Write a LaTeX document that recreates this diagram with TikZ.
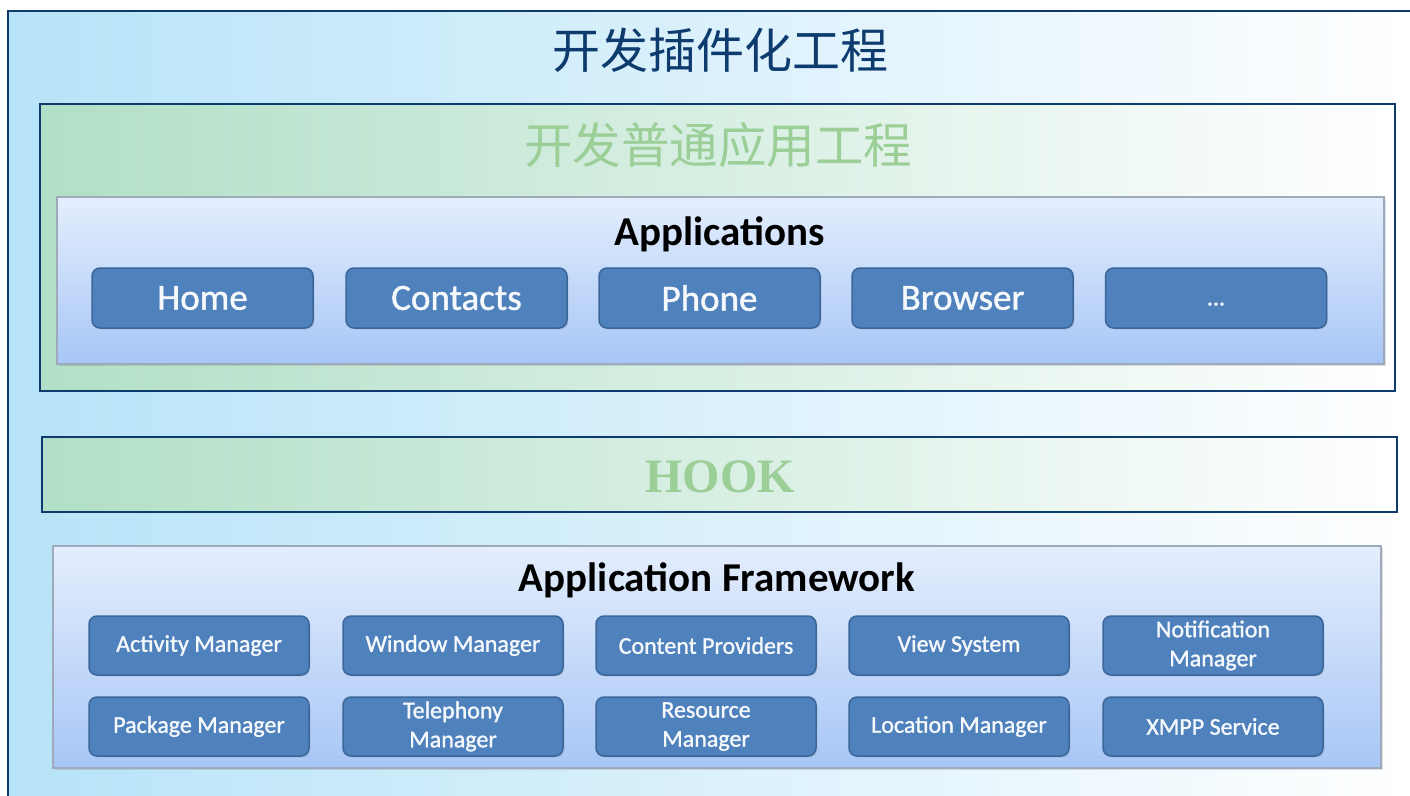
\documentclass[tikz,border=0pt]{standalone}
\usepackage{fontspec}
\usetikzlibrary{shadows}
\newfontfamily\cjk{Noto Sans CJK SC}
\newfontfamily\appfont[FakeBold=1.2]{Carlito}
\newfontfamily\headfont{Carlito}
\newfontfamily\hookfont{Liberation Serif}
\definecolor{navy}{HTML}{0D3B6E}
\definecolor{skyleft}{HTML}{B7E3F8}
\definecolor{mintleft}{HTML}{B1DFC7}
\definecolor{mintext}{HTML}{9CCF98}
\definecolor{btnblue}{HTML}{4F81BD}
\definecolor{btnedge}{HTML}{3B6699}
\definecolor{paneltop}{HTML}{E4EEFD}
\definecolor{panelbot}{HTML}{A7C6F6}
\definecolor{paneledge}{HTML}{9EA9BA}
\tikzstyle{frame}=[draw=navy, line width=2.5pt, left color=skyleft, right color=white, shape=rectangle, inner sep=0pt]
\tikzstyle{gbox}=[draw=navy, line width=2pt, left color=mintleft, right color=white, shape=rectangle, inner sep=0pt]
\tikzstyle{panel}=[draw=paneledge, line width=2.5pt, top color=paneltop, bottom color=panelbot, shape=rectangle, inner sep=0pt, drop shadow={shadow xshift=2pt, shadow yshift=-2pt, opacity=.25}]
\tikzstyle{btn}=[fill=btnblue, draw=btnedge, line width=1.5pt, rounded corners=8pt, shape=rectangle, minimum width=221pt, minimum height=60pt, inner sep=0pt, text=white!95!btnblue, font=\appfont\fontsize{37}{37}\selectfont, drop shadow={shadow xshift=1.5pt, shadow yshift=-1.5pt, opacity=.2}]
\tikzstyle{sbtn}=[btn, minimum width=220pt, minimum height=59pt, align=center, font=\appfont\fontsize{24}{29}\selectfont]
\tikzstyle{head}=[font=\headfont\bfseries\fontsize{41}{41}\selectfont, text=black]

\begin{document}
\begin{tikzpicture}[x=1pt, y=-1pt]
		\useasboundingbox (0,0) rectangle (1410,795);
		\clip (0,0) rectangle (1410,795);

		\node [style=frame, minimum width=1412pt, minimum height=799pt] (0) at (714, 410.5) {};
		\node [text=navy, font=\cjk\fontsize{48}{48}\selectfont] (-1) at (720, 50) {开发插件化工程};

		\node [style=gbox, minimum width=1355pt, minimum height=287pt] (1) at (717.5, 247.5) {};
		\node [text=mintext, font=\cjk\fontsize{48.5}{48.5}\selectfont] (-2) at (718, 145) {开发普通应用工程};

		\node [style=panel, minimum width=1327pt, minimum height=167pt] (2) at (720.5, 280.5) {};
		\node [style=head] (-3) at (720, 234) {Applications};

		\node [style=btn] (21) at (202.5, 298) {Home};
		\node [style=btn] (22) at (456.5, 298) {Contacts};
		\node [style=btn] (23) at (709.5, 298) {Phone};
		\node [style=btn] (24) at (962.5, 298) {Browser};
		\node [style=btn] (25) at (1216, 298) {\fontsize{24}{37}\selectfont\strut ...};

		\node [style=gbox, minimum width=1355pt, minimum height=75pt] (3) at (719.5, 474.5) {};
		\node [text=mintext, font=\hookfont\bfseries\fontsize{48}{48}\selectfont] (-4) at (720, 477) {HOOK};

		\node [style=panel, minimum width=1328pt, minimum height=222pt] (4) at (717, 657) {};
		\node [style=head] (-5) at (717, 580) {Application Framework};

		\node [style=sbtn] (41) at (199, 645.5) {Activity Manager};
		\node [style=sbtn] (42) at (453, 645.5) {Window Manager};
		\node [style=sbtn] (43) at (706, 645.5) {Content Providers};
		\node [style=sbtn] (44) at (959, 645.5) {View System};
		\node [style=sbtn] (45) at (1213, 645.5) {Notification\\Manager};

		\node [style=sbtn] (51) at (199, 726.5) {Package Manager};
		\node [style=sbtn] (52) at (453, 726.5) {Telephony\\Manager};
		\node [style=sbtn] (53) at (706, 726.5) {Resource\\Manager};
		\node [style=sbtn] (54) at (959, 726.5) {Location Manager};
		\node [style=sbtn] (55) at (1213, 726.5) {XMPP Service};
	\end{tikzpicture}
\end{document}
